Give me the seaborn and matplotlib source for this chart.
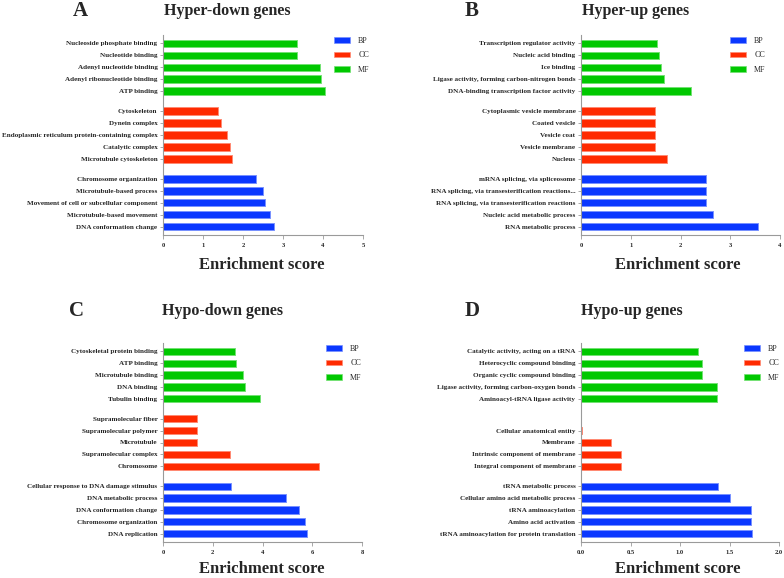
import matplotlib
matplotlib.use("Agg")
import matplotlib.pyplot as plt
from matplotlib.patches import Patch
import matplotlib.colors as mcolors
import seaborn as sns
import pandas as pd

sns.set_style("ticks")
plt.rcParams['font.family'] = ['Liberation Serif', 'DejaVu Serif']

# ---------------- data (top-to-bottom within each group) ----------------
categories = ["BP", "CC", "MF"]

a_mf_terms = ["Nucleoside phosphate binding", "Nucleotide binding", "Adenyl nucleotide binding",
              "Adenyl ribonucleotide binding", "ATP binding"]
a_mf_vals = [3.36, 3.36, 3.93, 3.95, 4.04]
a_cc_terms = ["Cytoskeleton", "Dynein complex", "Endoplasmic reticulum protein-containing complex",
              "Catalytic complex", "Microtubule cytoskeleton"]
a_cc_vals = [1.38, 1.46, 1.60, 1.67, 1.72]
a_bp_terms = ["Chromosome organization", "Microtubule-based process",
              "Movement of cell or subcellular component", "Microtubule-based movement",
              "DNA conformation change"]
a_bp_vals = [2.33, 2.50, 2.54, 2.67, 2.78]

b_mf_terms = ["Transcription regulator activity", "Nucleic acid binding", "Ice binding",
              "Ligase activity, forming carbon-nitrogen bonds",
              "DNA-binding transcription factor activity"]
b_mf_vals = [1.52, 1.56, 1.60, 1.66, 2.22]
b_cc_terms = ["Cytoplasmic vesicle membrane", "Coated vesicle", "Vesicle coat",
              "Vesicle membrane", "Nucleus"]
b_cc_vals = [1.49, 1.49, 1.49, 1.49, 1.73]
b_bp_terms = ["mRNA splicing, via spliceosome", "RNA splicing, via transesterification reactions...",
              "RNA splicing, via transesterification reactions", "Nucleic acid metabolic process",
              "RNA metabolic process"]
b_bp_vals = [2.51, 2.51, 2.51, 2.65, 3.56]

c_mf_terms = ["Cytoskeletal protein binding", "ATP binding", "Microtubule binding",
              "DNA binding", "Tubulin binding"]
c_mf_vals = [2.90, 2.92, 3.20, 3.28, 3.90]
c_cc_terms = ["Supramolecular fiber", "Supramolecular polymer", "Microtubule",
              "Supramolecular complex", "Chromosome"]
c_cc_vals = [1.38, 1.38, 1.38, 2.69, 6.27]
c_bp_terms = ["Cellular response to DNA damage stimulus", "DNA metabolic process",
              "DNA conformation change", "Chromosome organization", "DNA replication"]
c_bp_vals = [2.72, 4.96, 5.46, 5.72, 5.78]

d_mf_terms = ["Catalytic activity, acting on a tRNA", "Heterocyclic compound binding",
              "Organic cyclic compound binding", "Ligase activity, forming carbon-oxygen bonds",
              "Aminoacyl-tRNA ligase activity"]
d_mf_vals = [1.18, 1.225, 1.225, 1.37, 1.37]
d_cc_terms = ["Cellular anatomical entity", "Membrane", "Intrinsic component of membrane",
              "Integral component of membrane"]
d_cc_vals = [0.01, 0.30, 0.40, 0.40]
d_bp_terms = ["tRNA metabolic process", "Cellular amino acid metabolic process",
              "tRNA aminoacylation", "Amino acid activation",
              "tRNA aminoacylation for protein translation"]
d_bp_vals = [1.385, 1.505, 1.717, 1.717, 1.727]

panel_letters = ["A", "B", "C", "D"]
panel_titles = ["Hyper-down genes", "Hyper-up genes", "Hypo-down genes", "Hypo-up genes"]
x_maxes = [5, 4, 8, 2.0]
x_steps = [1, 1, 2, 0.5]
x_label = "Enrichment score"

palette = {"BP": "#0A37FF", "CC": "#FF2A00", "MF": "#00C800"}

panels = [
    (a_mf_terms, a_mf_vals, a_cc_terms, a_cc_vals, a_bp_terms, a_bp_vals),
    (b_mf_terms, b_mf_vals, b_cc_terms, b_cc_vals, b_bp_terms, b_bp_vals),
    (c_mf_terms, c_mf_vals, c_cc_terms, c_cc_vals, c_bp_terms, c_bp_vals),
    (d_mf_terms, d_mf_vals, d_cc_terms, d_cc_vals, d_bp_terms, d_bp_vals),
]

# ---------------- layout (pixels) ----------------
W, H = 784, 578
fig = plt.figure(figsize=(W / 100, H / 100), dpi=100)

axes_px = [(163, 35, 363, 235), (581, 35, 780, 235), (163, 343, 362, 542), (581, 343, 779, 542)]
letter_px = [(80, 16), (472, 16), (77, 316), (472, 316)]
title_px = [(227, 15), (636, 15), (223, 315), (632, 315)]
xlabel_px = [(262, 269), (678, 269), (262, 573), (678, 573)]
legend_px = [(334, 37), (730, 37), (326, 345), (744, 345)]

GAP = 0.68
SLOTS = 5


def lighten(c, f=0.45):
    r, g, b = mcolors.to_rgb(c)
    return (r + (1 - r) * f, g + (1 - g) * f, b + (1 - b) * f)


for k, (mf_t, mf_v, cc_t, cc_v, bp_t, bp_v) in enumerate(panels):
    rows = []
    for gi, (cat, terms, vals) in enumerate([("MF", mf_t, mf_v), ("CC", cc_t, cc_v), ("BP", bp_t, bp_v)]):
        base = gi * (SLOTS + GAP)
        n = len(terms)
        for i, (t, v) in enumerate(zip(terms, vals)):
            rows.append({"term": t, "score": v, "cat": cat, "pos": base + (SLOTS - n) + i})
    df = pd.DataFrame(rows)

    l, t, r, b = axes_px[k]
    ax = fig.add_axes([l / W, 1 - b / H, (r - l) / W, (b - t) / H])
    sns.barplot(data=df, x="score", y="pos", hue="cat", hue_order=categories, palette=palette,
                orient="y", native_scale=True, dodge=False, width=0.62, saturation=1,
                legend=False, ax=ax)
    for p in ax.patches:
        fc = p.get_facecolor()
        p.set_edgecolor(lighten(fc))
        p.set_linewidth(0.7)

    ymax = 2 * (SLOTS + GAP) + SLOTS - 1
    ax.set_ylim(ymax + 0.7, -0.7)
    ax.set_yticks(df["pos"].tolist())
    ax.set_yticklabels(df["term"].tolist(), fontsize=5.1, fontweight="bold")
    xmax = x_maxes[k]
    step = x_steps[k]
    ticks = [i * step for i in range(int(round(xmax / step)) + 1)]
    ax.set_xlim(0, xmax)
    ax.set_xticks(ticks)
    if step < 1:
        ax.set_xticklabels([f"{v:.1f}" for v in ticks], fontsize=4.7, fontweight="bold")
    else:
        ax.set_xticklabels([f"{v:g}" for v in ticks], fontsize=4.7, fontweight="bold")
    ax.set_xlabel("")
    ax.set_ylabel("")
    for side in ["top", "right"]:
        ax.spines[side].set_visible(False)
    for side in ["left", "bottom"]:
        ax.spines[side].set_color("#9a9a9a")
        ax.spines[side].set_linewidth(0.8)
    ax.tick_params(axis="y", length=2.5, width=0.6, color="#9a9a9a", pad=1.5)
    ax.tick_params(axis="x", length=3, width=0.6, color="#9a9a9a", pad=3)

    handles = [Patch(facecolor=palette[c], edgecolor=lighten(palette[c]), linewidth=0.5, label=c)
               for c in categories]
    lx, ly = legend_px[k]
    ax.legend(handles=handles, loc="upper left", bbox_to_anchor=(lx / W, 1 - ly / H),
              bbox_transform=fig.transFigure, frameon=False, borderpad=0, borderaxespad=0,
              handlelength=2.0, handleheight=0.7, handletextpad=1.0, labelspacing=0.8,
              prop={"family": "Liberation Serif", "size": 5.8})

    fig.text(letter_px[k][0] / W, 1 - letter_px[k][1] / H, panel_letters[k], fontsize=15,
             fontweight="bold", ha="center", va="baseline")
    fig.text(title_px[k][0] / W, 1 - title_px[k][1] / H, panel_titles[k], fontsize=11.5,
             fontweight="bold", ha="center", va="baseline")
    fig.text(xlabel_px[k][0] / W, 1 - xlabel_px[k][1] / H, x_label, fontsize=12,
             fontweight="bold", ha="center", va="baseline")

fig.savefig("out.png", dpi=100, facecolor="white")
